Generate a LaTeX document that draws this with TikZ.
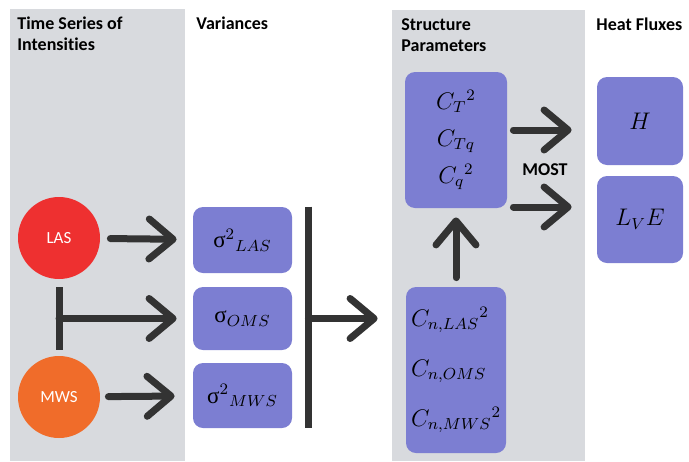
\documentclass[tikz,border=0pt]{standalone}
\usepackage{fontspec}
\setmainfont{Carlito}[Ligatures=NoCommon]
\newfontfamily\grkfont{Liberation Serif}
\usetikzlibrary{arrows.meta,calc,positioning}
\definecolor{panelgray}{RGB}{216,218,222}
\definecolor{boxblue}{RGB}{124,126,210}
\definecolor{lasred}{RGB}{238,48,48}
\definecolor{mwsorange}{RGB}{240,108,42}
\definecolor{arrowgray}{RGB}{51,51,51}
\tikzset{
  title/.style = {anchor=base west, inner sep=0pt, font=\fontsize{9}{11}\selectfont\bfseries},
  source/.style = {circle, minimum size=41pt, inner sep=0pt, text=white, font=\fontsize{8.5}{10}\selectfont},
  quantity/.style = {rounded corners=5pt, fill=boxblue, inner sep=0pt, font=\fontsize{11.5}{13}\selectfont},
  bigarrow/.style = {arrowgray, line width=3.5pt, line cap=round,
    -{Straight Barb[length=12pt, width=20pt, line cap=round, line join=round]}},
  bar/.style = {arrowgray, line width=3.5pt}
}
\begin{document}
\begin{tikzpicture}[x=0.5pt, y=-0.5pt]
\useasboundingbox (0,0) rectangle (689,461);
\fill[panelgray] (10,9) rectangle (185,461);
\fill[panelgray] (392,10) rectangle (585,461);

\node[title] (ttime) at (17,29) {Time Series of};
\node[title] (tint) at (17,50) {Intensities};
\node[title] (tvar) at (196,29) {Variances};
\node[title] (tstruct) at (401,30) {Structure};
\node[title] (tparam) at (401,51) {Parameters};
\node[title] (theat) at (596,30) {Heat Fluxes};

\node[source, fill=lasred] (las) at (59,238) {LAS};
\node[source, fill=mwsorange] (mws) at (59,397) {MWS};

\node[quantity, minimum width=49.5pt, minimum height=33pt] (vlas) at (242.5,240) {{\grkfont σ}$^2{}_{LAS}$};
\node[quantity, minimum width=49.5pt, minimum height=31.5pt] (voms) at (242.5,318.5) {{\grkfont σ}$_{OMS}$};
\node[quantity, minimum width=49.5pt, minimum height=32.5pt] (vmws) at (242.5,395.5) {{\grkfont σ}$^2{}_{MWS}$};

\node[quantity, minimum width=51pt, minimum height=68pt, align=center,
  font=\fontsize{11.5}{18.5}\selectfont] (ctop) at (456,140) {$C_T{}^2$\\$C_{Tq}$\\$C_q{}^2$};
\node[quantity, minimum width=50pt, minimum height=83pt, align=left,
  font=\fontsize{11.5}{25}\selectfont] (cbot) at (456,370) {$C_{n,LAS}{}^2$\\$C_{n,OMS}$\\$C_{n,MWS}{}^2$};

\node[quantity, minimum width=43pt, minimum height=44pt] (hflux) at (640,121) {$H$};
\node[quantity, minimum width=43pt, minimum height=43.5pt] (lflux) at (640,219.5) {$L_V E$};

\node[font=\fontsize{9}{11}\selectfont\bfseries] (most) at (545,170) {MOST};

\coordinate (bartop) at ($(vlas.north east)+(16,0)$);
\coordinate (barbot) at ($(vmws.south east)+(16,0)$);
\coordinate (barmid) at (bartop |- voms.east);
\coordinate (cin) at ($(barmid -| cbot.west)+(-28,0)$);

\draw[bigarrow, shorten <=5pt, shorten >=8pt] (las) -- (vlas);
\draw[bar] ($(las.south)+(0,8)$) -- ($(mws.north)+(0,-6)$);
\draw[bigarrow, shorten >=8pt] (las.south |- voms.west) -- (voms.west);
\draw[bigarrow, shorten <=4pt, shorten >=9pt] (mws) -- (vmws);

\draw[bar] (bartop) -- (barbot);
\draw[bigarrow] (barmid) -- (cin);
\draw[bigarrow, shorten <=4.5pt, shorten >=4.5pt] (cbot) -- (ctop);

\draw[bigarrow] ($(ctop.east)+(6,-10)$) -- ($(hflux.west)+(-25,9)$);
\draw[bigarrow] ($(ctop.east)+(6,67)$) -- ($(lflux.west)+(-25,-12.5)$);
\end{tikzpicture}
\end{document}
